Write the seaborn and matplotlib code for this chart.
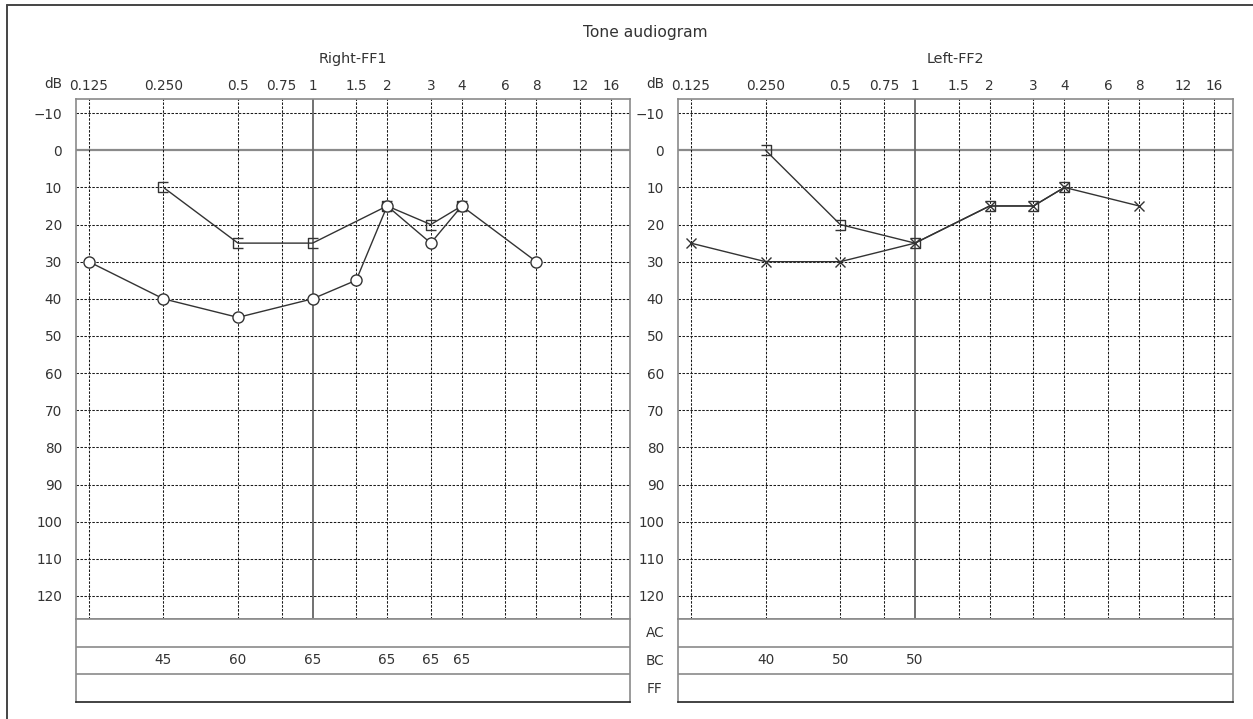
import matplotlib
matplotlib.use("Agg")
import matplotlib.pyplot as plt
from matplotlib.path import Path
import seaborn as sns

# ---------------- data ----------------
freq_ticks = [0.125, 0.25, 0.5, 0.75, 1, 1.5, 2, 3, 4, 6, 8, 12, 16]
freq_labels = ["0.125", "0.250", "0.5", "0.75", "1", "1.5", "2", "3", "4", "6", "8", "12", "16"]
db_ticks = [-10, 0, 10, 20, 30, 40, 50, 60, 70, 80, 90, 100, 110, 120]

right_ac_freq = [0.125, 0.25, 0.5, 1, 1.5, 2, 3, 4, 8]
right_ac_db = [30, 40, 45, 40, 35, 15, 25, 15, 30]
right_bc_freq = [0.25, 0.5, 1, 2, 3, 4]
right_bc_db = [10, 25, 25, 15, 20, 15]

left_ac_freq = [0.125, 0.25, 0.5, 1, 2, 3, 4, 8]
left_ac_db = [25, 30, 30, 25, 15, 15, 10, 15]
left_bc_freq = [0.25, 0.5, 1, 2, 3, 4]
left_bc_db = [0, 20, 25, 15, 15, 10]

right_mask_freq = [0.25, 0.5, 1, 2, 3, 4]
right_mask_db = [45, 60, 65, 65, 65, 65]
left_mask_freq = [0.25, 0.5, 1]
left_mask_db = [40, 50, 50]

row_labels = ["AC", "BC", "FF"]
panel_titles = ["Right-FF1", "Left-FF2"]
main_title = "Tone audiogram"

# ---------------- style ----------------
sns.set_theme(style="white")
plt.rcParams["font.family"] = ["DejaVu Sans"]
TXT = "#333333"
LINE = "#333333"
GRAYL = "#8a8a8a"
FS = 9.8

W, H = 1253, 719
fig = plt.figure(figsize=(W / 100, H / 100), dpi=100)
fig.patch.set_facecolor("white")

def fx(px):
    return px / W

def fy(py):
    return 1 - py / H

# outer frame (top and left edges only)
fig.add_artist(plt.Line2D([fx(7), 1.0], [fy(4.5), fy(4.5)], color="#444444", lw=1.4, transform=fig.transFigure))
fig.add_artist(plt.Line2D([fx(7), fx(7)], [fy(4.5), 0.0], color="#444444", lw=1.4, transform=fig.transFigure))

bracket_open_right = Path([(1, -1), (-1, -1), (-1, 1), (1, 1)],
                          [Path.MOVETO, Path.LINETO, Path.LINETO, Path.LINETO])
bracket_open_left = Path([(-1, -1), (1, -1), (1, 1), (-1, 1)],
                         [Path.MOVETO, Path.LINETO, Path.LINETO, Path.LINETO])

XLIM = (0.111, 19.1)
YLIM = (126.2, -13.8)

panels = [
    dict(x0=76, x1=630, ac_f=right_ac_freq, ac_d=right_ac_db, ac_m="o",
         bc_f=right_bc_freq, bc_d=right_bc_db, bc_m=bracket_open_right,
         mk_f=right_mask_freq, mk_d=right_mask_db, title=panel_titles[0]),
    dict(x0=678, x1=1233, ac_f=left_ac_freq, ac_d=left_ac_db, ac_m="x",
         bc_f=left_bc_freq, bc_d=left_bc_db, bc_m=bracket_open_left,
         mk_f=left_mask_freq, mk_d=left_mask_db, title=panel_titles[1]),
]

top, bot = 99, 619
tbot = 702

for p in panels:
    ax = fig.add_axes([fx(p["x0"]), fy(bot), fx(p["x1"] - p["x0"]), (bot - top) / H])
    ax.set_xscale("log")
    ax.set_xlim(*XLIM)
    ax.set_ylim(*YLIM)
    ax.set_facecolor("white")
    # grid
    for d in db_ticks:
        if d == 0:
            ax.axhline(d, color=GRAYL, lw=1.6, zorder=1)
        else:
            ax.axhline(d, color="#1a1a1a", lw=0.75, ls=(0, (2.4, 1.4)), zorder=1)
    for f in freq_ticks:
        if f == 1:
            ax.axvline(f, color="#666666", lw=1.3, zorder=1)
        else:
            ax.axvline(f, color="#1a1a1a", lw=0.75, ls=(0, (2.4, 1.4)), zorder=1)

    # data lines
    sns.lineplot(x=p["bc_f"], y=p["bc_d"], ax=ax, color=LINE, lw=1.0, sort=False,
                 estimator=None, marker=p["bc_m"], markersize=7.2, markerfacecolor="none",
                 markeredgecolor=LINE, markeredgewidth=1.0, zorder=3)
    if p["ac_m"] == "o":
        sns.lineplot(x=p["ac_f"], y=p["ac_d"], ax=ax, color=LINE, lw=1.0, sort=False,
                     estimator=None, marker="o", markersize=8, markerfacecolor="white",
                     markeredgecolor=LINE, markeredgewidth=1.0, zorder=4)
    else:
        sns.lineplot(x=p["ac_f"], y=p["ac_d"], ax=ax, color=LINE, lw=1.0, sort=False,
                     estimator=None, marker="x", markersize=7.5,
                     markeredgecolor=LINE, markeredgewidth=1.0, zorder=4)

    ax.set_xticks(freq_ticks)
    ax.set_xticklabels(freq_labels)
    ax.minorticks_off()
    ax.set_yticks(db_ticks)
    ax.tick_params(axis="x", top=True, labeltop=True, bottom=False, labelbottom=False,
                   length=0, pad=4, labelsize=FS, labelcolor=TXT)
    ax.tick_params(axis="y", left=True, length=0, pad=10, labelsize=FS, labelcolor=TXT)
    ax.set_xlabel("")
    ax.set_ylabel("")
    for s in ax.spines.values():
        s.set_color(GRAYL)
        s.set_linewidth(1.2)
    if ax.get_legend():
        ax.get_legend().remove()

    # dB label
    fig.text(fx(p["x0"] - 14), fy(84), "dB", ha="right", va="center", fontsize=FS, color=TXT)
    # panel title
    fig.text(fx((p["x0"] + p["x1"]) / 2), fy(59), p["title"], ha="center", va="center",
             fontsize=FS + 0.6, color=TXT)

    # table
    tax = fig.add_axes([fx(p["x0"]), fy(tbot), fx(p["x1"] - p["x0"]), (tbot - bot) / H])
    tax.set_xscale("log")
    tax.set_xlim(*XLIM)
    tax.set_ylim(3, 0)
    tax.set_xticks([])
    tax.set_yticks([])
    tax.minorticks_off()
    for y in (1, 2):
        tax.axhline(y, color=GRAYL, lw=1.2)
    for name, s in tax.spines.items():
        s.set_color(GRAYL)
        s.set_linewidth(1.2)
    tax.spines["bottom"].set_color("#222222")
    for f, v in zip(p["mk_f"], p["mk_d"]):
        tax.text(f, 1.5, str(v), ha="center", va="center", fontsize=FS, color=TXT)

# row labels between panels
row_y = [633, 661, 689]
for lab, yy in zip(row_labels, row_y):
    fig.text(fx(655), fy(yy), lab, ha="center", va="center", fontsize=FS, color=TXT)

fig.text(fx(645), fy(32), main_title, ha="center", va="center", fontsize=11.2, color=TXT)

fig.savefig("out.png", dpi=100, facecolor="white")
